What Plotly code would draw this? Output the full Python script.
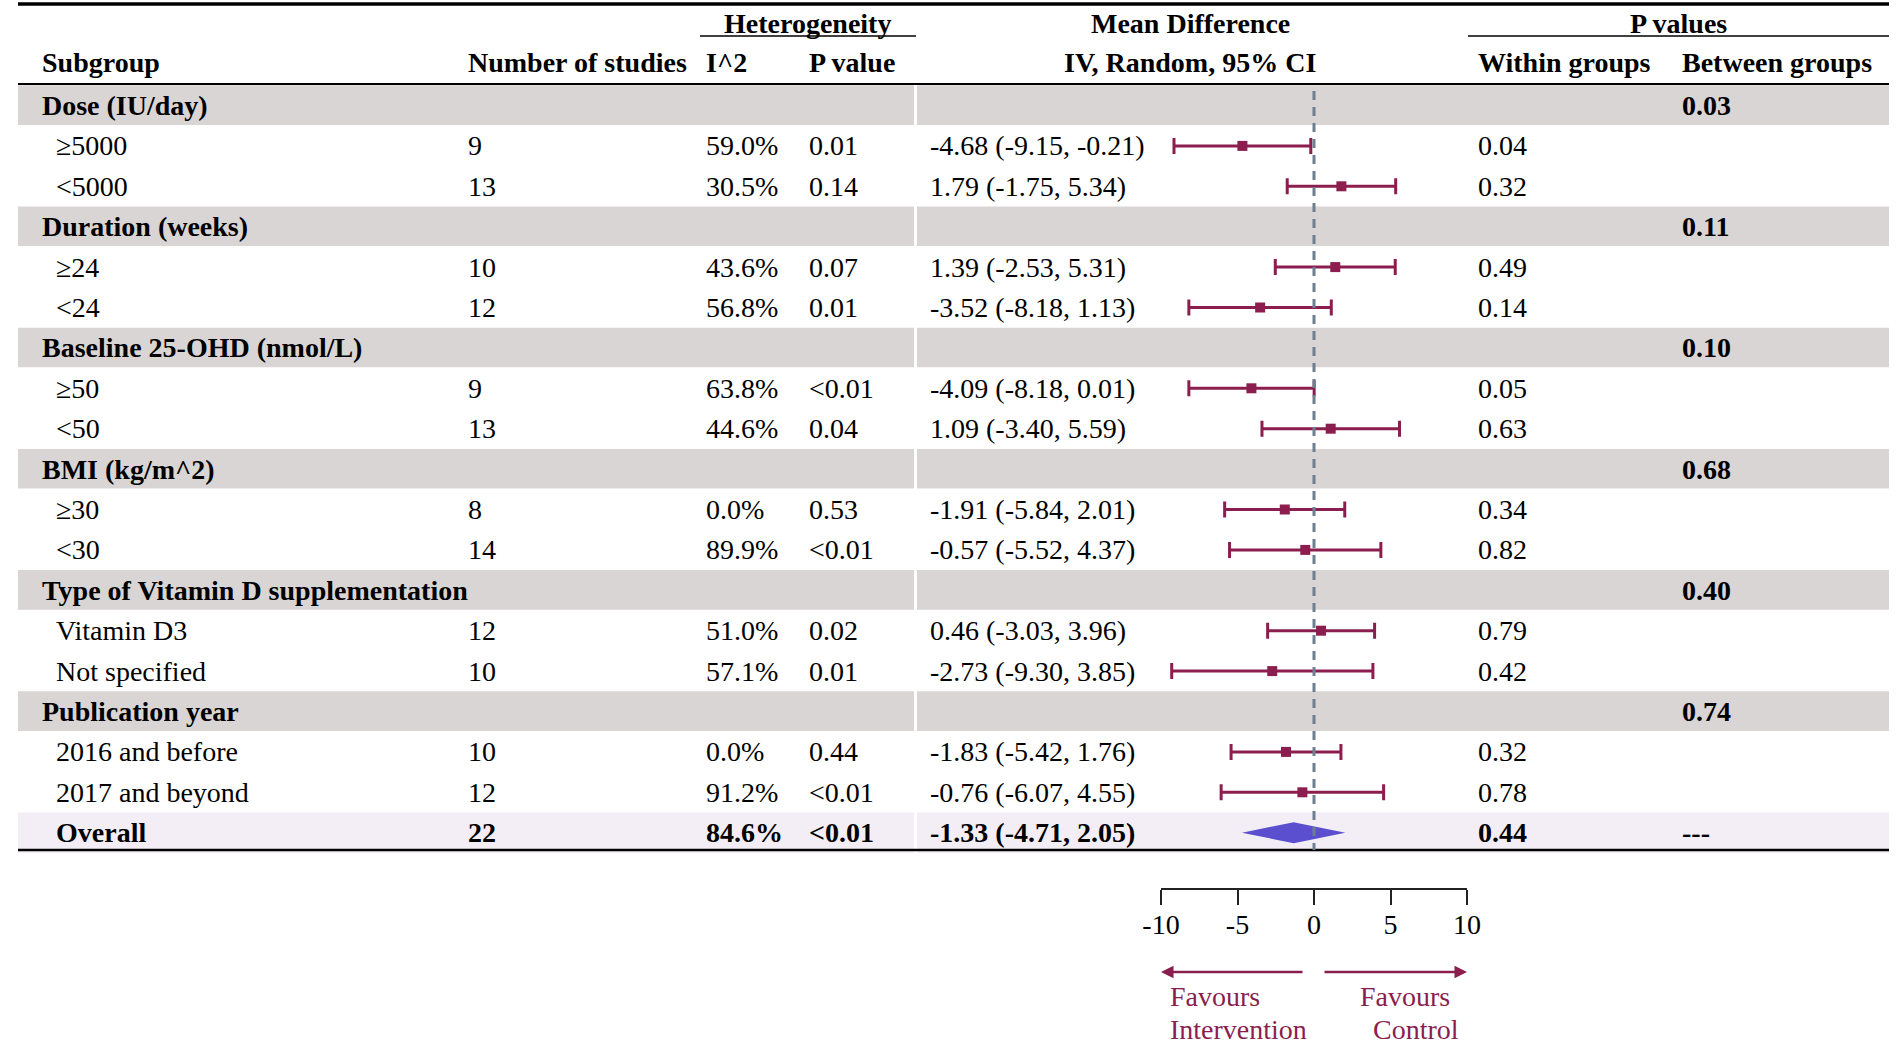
import plotly.graph_objects as go

# ---------------- data ----------------
group_names = ["Dose (IU/day)", "Duration (weeks)", "Baseline 25-OHD (nmol/L)",
               "BMI (kg/m^2)", "Type of Vitamin D supplementation", "Publication year"]
group_between_p = ["0.03", "0.11", "0.10", "0.68", "0.40", "0.74"]

subgroup_labels = [["≥5000", "<5000"], ["≥24", "<24"], ["≥50", "<50"],
                   ["≥30", "<30"], ["Vitamin D3", "Not specified"],
                   ["2016 and before", "2017 and beyond"]]
n_studies = [[9, 13], [10, 12], [9, 13], [8, 14], [12, 10], [10, 12]]
i2 = [["59.0%", "30.5%"], ["43.6%", "56.8%"], ["63.8%", "44.6%"],
      ["0.0%", "89.9%"], ["51.0%", "57.1%"], ["0.0%", "91.2%"]]
het_p = [["0.01", "0.14"], ["0.07", "0.01"], ["<0.01", "0.04"],
         ["0.53", "<0.01"], ["0.02", "0.01"], ["0.44", "<0.01"]]
md = [[-4.68, 1.79], [1.39, -3.52], [-4.09, 1.09], [-1.91, -0.57], [0.46, -2.73], [-1.83, -0.76]]
ci_lo = [[-9.15, -1.75], [-2.53, -8.18], [-8.18, -3.40], [-5.84, -5.52], [-3.03, -9.30], [-5.42, -6.07]]
ci_hi = [[-0.21, 5.34], [5.31, 1.13], [0.01, 5.59], [2.01, 4.37], [3.96, 3.85], [1.76, 4.55]]
within_p = [["0.04", "0.32"], ["0.49", "0.14"], ["0.05", "0.63"],
            ["0.34", "0.82"], ["0.79", "0.42"], ["0.32", "0.78"]]

overall_label = "Overall"
overall_n = 22
overall_i2 = "84.6%"
overall_het_p = "<0.01"
overall_md, overall_lo, overall_hi = -1.33, -4.71, 2.05
overall_within = "0.44"
overall_between = "---"

tick_vals = [-10, -5, 0, 5, 10]
tick_text = ["-10", "-5", "0", "5", "10"]

# ---------------- layout constants ----------------
W, H = 1902, 1045
ROW0, ROWH = 105.5, 40.4          # px centre of first row, row height
AXIS_Y = 888                        # px of forest axis line
FX0, FX1 = 1161, 1467               # px of -10 .. 10
TL, TR = 18, 1889                   # table left/right px
SEP = 915                           # white separator in shaded rows
FONT = "Liberation Serif, Times New Roman, serif"
FS = 28
RED = "#8B1E4E"
GRAY_BAND = "#D9D5D5"
OVR_BAND = "#F3EEF6"

col_label_grp, col_label_sub = 40, 54
col_n, col_i2, col_hp, col_md, col_wp, col_bp = 466, 704, 807, 928, 1476, 1680


def px(x):
    return x / W


def py(y):
    return 1 - y / H


# build row list
rows = []
for g in range(len(group_names)):
    rows.append(dict(kind="group", label=group_names[g], bp=group_between_p[g]))
    for k in range(len(subgroup_labels[g])):
        rows.append(dict(kind="sub", label=subgroup_labels[g][k], n=n_studies[g][k],
                         i2=i2[g][k], hp=het_p[g][k], md=md[g][k], lo=ci_lo[g][k],
                         hi=ci_hi[g][k], wp=within_p[g][k]))
rows.append(dict(kind="overall", label=overall_label, n=overall_n, i2=overall_i2,
                 hp=overall_het_p, md=overall_md, lo=overall_lo, hi=overall_hi,
                 wp=overall_within, bp=overall_between))

fig = go.Figure()
shapes = []
annotations = []


def txt(x, row, s, bold=False, anchor="left", color="black", yref="y", y=None):
    annotations.append(dict(
        x=px(x), xref="paper", y=row if y is None else y, yref=yref,
        text=("<b>%s</b>" % s) if bold else s, showarrow=False,
        xanchor=anchor, yanchor="middle",
        font=dict(family=FONT, size=FS, color=color)))


# header
for xx, s in [(807, "Heterogeneity"), (1190, "Mean Difference"), (1678, "P values")]:
    txt(xx, None, s, bold=True, anchor="center", yref="paper", y=py(23))
for xx, s in [(40, "Subgroup"), (466, "Number of studies"), (704, "I^2"),
              (807, "P value"), (1476, "Within groups"), (1680, "Between groups")]:
    txt(xx, None, s, bold=True, yref="paper", y=py(62))
txt(1190, None, "IV, Random, 95% CI", bold=True, anchor="center", yref="paper", y=py(62))

# lines
def hline(x0, x1, y, w):
    shapes.append(dict(type="line", xref="paper", yref="paper", x0=px(x0), x1=px(x1),
                       y0=py(y), y1=py(y), line=dict(color="black", width=w)))

hline(TL, TR, 4, 3.5)
hline(700, 916, 36, 1.5)
hline(1468, TR, 36, 1.5)
hline(TL, TR, 84, 2)
hline(TL, TR, 850, 2.5)

# rows
fx, fy, flo, fhi = [], [], [], []
for i, r in enumerate(rows):
    if r["kind"] in ("group", "overall"):
        col = GRAY_BAND if r["kind"] == "group" else OVR_BAND
        for a, b in [(TL, SEP - 1), (SEP + 2, TR)]:
            shapes.append(dict(type="rect", xref="paper", yref="y", x0=px(a), x1=px(b),
                               y0=i - 0.5, y1=i + 0.5 - (0.02 if r["kind"] == "group" else 0),
                               fillcolor=col, line=dict(width=0), layer="below"))
    if r["kind"] == "group":
        txt(col_label_grp, i, r["label"], bold=True)
        txt(col_bp, i, r["bp"], bold=True)
        continue
    b = r["kind"] == "overall"
    txt(col_label_sub, i, r["label"], bold=b)
    txt(col_n, i, str(r["n"]), bold=b)
    txt(col_i2, i, r["i2"], bold=b)
    txt(col_hp, i, r["hp"], bold=b)
    txt(col_md, i, "%.2f (%.2f, %.2f)" % (r["md"], r["lo"], r["hi"]), bold=b)
    txt(col_wp, i, r["wp"], bold=b)
    if b:
        txt(col_bp, i, r["bp"], bold=True)
        dh = 0.26
        fig.add_trace(go.Scatter(
            x=[r["lo"], r["md"], r["hi"], r["md"], r["lo"]],
            y=[i, i - dh, i, i + dh, i], mode="lines", fill="toself",
            fillcolor="#5B4FCF", line=dict(width=0, color="#5B4FCF"),
            hoverinfo="skip", showlegend=False))
    else:
        fx.append(r["md"]); fy.append(i); flo.append(r["lo"]); fhi.append(r["hi"])

fig.add_trace(go.Scatter(
    x=fx, y=fy, mode="markers",
    marker=dict(symbol="square", size=10, color=RED),
    error_x=dict(type="data", symmetric=False,
                 array=[h - m for h, m in zip(fhi, fx)],
                 arrayminus=[m - l for m, l in zip(fx, flo)],
                 thickness=3, width=8, color=RED),
    showlegend=False, hoverinfo="skip"))

# dashed null line
shapes.append(dict(type="line", xref="x", yref="y", x0=0, x1=0,
                   y0=(91 - ROW0) / ROWH, y1=(850 - ROW0) / ROWH,
                   line=dict(color="#6E7F8F", width=3, dash="9px,7px")))

# favours arrows and labels
arr_y = 972
annotations.append(dict(x=-10, xref="x", y=py(arr_y), yref="paper",
                        ax=143, axref="pixel", ay=0, ayref="pixel", text="",
                        showarrow=True, arrowhead=2, arrowsize=1, arrowwidth=2.5,
                        arrowcolor=RED))
annotations.append(dict(x=10, xref="x", y=py(arr_y), yref="paper",
                        ax=-144, axref="pixel", ay=0, ayref="pixel", text="",
                        showarrow=True, arrowhead=2, arrowsize=1, arrowwidth=2.5,
                        arrowcolor=RED))
for xx, yy, s in [(1168, 996, "Favours"), (1168, 1029, "Intervention"),
                  (1358, 996, "Favours"), (1371, 1029, "Control")]:
    txt(xx, None, s, color=RED, yref="paper", y=py(yy))

fig.update_layout(
    width=W, height=H, autosize=False,
    margin=dict(l=0, r=0, t=0, b=0, pad=0, autoexpand=False),
    paper_bgcolor="white", plot_bgcolor="rgba(0,0,0,0)",
    shapes=shapes, annotations=annotations, showlegend=False,
    xaxis=dict(domain=[px(FX0), px(FX1)], range=[-10, 10], tickvals=tick_vals,
               ticktext=tick_text, ticks="outside", ticklen=15, tickwidth=1.5,
               tickcolor="#222", showline=True, linecolor="#222", linewidth=1.5,
               showgrid=False, zeroline=False, ticklabelstandoff=-4, automargin=False,
               tickfont=dict(family=FONT, size=FS, color="black"), fixedrange=True),
    yaxis=dict(domain=[py(AXIS_Y), 1],
               range=[(AXIS_Y - ROW0) / ROWH, -ROW0 / ROWH], automargin=False,
               visible=False, fixedrange=True),
)

fig.write_html("out.html", config={"displayModeBar": False},
               post_script="document.body.style.margin='0';document.body.style.overflow='hidden';")
